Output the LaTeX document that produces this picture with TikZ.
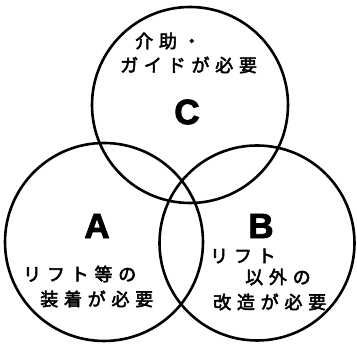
\documentclass[tikz,border=0pt]{standalone}
\usepackage{fontspec}
\newfontfamily\jpfont[LetterSpace=32, FakeBold=3]{Noto Sans CJK JP}
\newfontfamily\capfont[BoldFeatures={FakeBold=2.5}]{Liberation Sans}
\begin{document}
\begin{tikzpicture}[x=1pt, y=1pt,
    ring/.style={line width=2.6pt},
    bigletter/.style={font=\capfont\bfseries\fontsize{35}{35}\selectfont, inner sep=0pt},
    jptext/.style={font=\jpfont\fontsize{18}{18}\selectfont, anchor=west, inner sep=0pt}]
    \useasboundingbox (0,0) rectangle (357,347);

    % 三つの円
    \draw[ring] (190,242) circle (98);
    \draw[ring] (104,105) circle (99);
    \draw[ring] (257,104) circle (97.5);

    % C：上の円
    \node[bigletter] (labC) at (187,235) {C};
    \node[jptext] (textC1) at (135,306) {介助・};
    \node[jptext] (textC2) at (120,282) {ガイドが必要};

    % A：左の円
    \node[bigletter] (labA) at (97,121) {A};
    \node[jptext] (textA1) at (23,73) {リフト等の};
    \node[jptext] (textA2) at (40,48) {装着が必要};

    % B：右の円
    \node[bigletter] (labB) at (261,121) {B};
    \node[jptext] (textB1) at (210,91) {リフト};
    \node[jptext] (textB2) at (245,70) {以外の};
    \node[jptext] (textB3) at (213,45) {改造が必要};
\end{tikzpicture}
\end{document}
